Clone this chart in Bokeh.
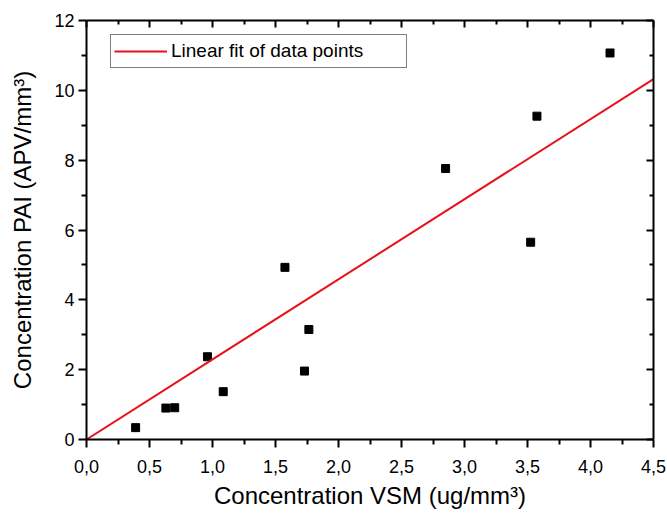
import numpy as np
from bokeh.plotting import figure
from bokeh.models import (LinearAxis, FixedTicker, CustomJSTickFormatter, Legend,
                          LegendItem, Range1d, ColumnDataSource)
from bokeh.embed import file_html
from bokeh.resources import INLINE

# ---- data ----
vsm = [0.39, 0.63, 0.70, 0.96, 1.085, 1.575, 1.73, 1.765, 2.85, 3.525, 3.575, 4.155]
pai = [0.34, 0.90, 0.91, 2.37, 1.37, 4.93, 1.96, 3.15, 7.76, 5.65, 9.26, 11.07]

x_ticks = [0.0, 0.5, 1.0, 1.5, 2.0, 2.5, 3.0, 3.5, 4.0, 4.5]
x_minor = [0.25, 0.75, 1.25, 1.75, 2.25, 2.75, 3.25, 3.75, 4.25]
y_ticks = [0, 2, 4, 6, 8, 10, 12]
y_minor = [1, 3, 5, 7, 9, 11]

x_label = "Concentration VSM (ug/mm³)"
y_label = "Concentration PAI (APV/mm³)"
fit_label = "Linear fit of data points"

# linear least-squares fit through the origin
xa = np.array(vsm)
ya = np.array(pai)
slope = float((xa * ya).sum() / (xa * xa).sum())
fit_x = [0.0, 4.5]
fit_y = [slope * v for v in fit_x]

FONT = "Liberation Sans"

W, H = 667, 515
ML, MR, MT, MB = 86, 14, 20, 76
FH = H - MT - MB

p = figure(width=W, height=H, x_range=Range1d(0, 4.5), y_range=Range1d(0, 12),
           output_backend="svg", toolbar_location=None,
           min_border_left=ML, min_border_right=MR, min_border_top=MT, min_border_bottom=MB,
           x_axis_label=x_label, y_axis_label=y_label)
p.grid.visible = False
p.outline_line_color = None
p.background_fill_color = "white"
p.border_fill_color = "white"

comma_fmt = CustomJSTickFormatter(code="return tick.toFixed(1).replace('.', ',');")
int_fmt = CustomJSTickFormatter(code="return tick.toFixed(0);")
empty_fmt = CustomJSTickFormatter(code="return '';")


def style_axis(ax, ticker, fmt, inward, show_labels):
    ax.ticker = ticker
    ax.formatter = fmt
    ax.axis_line_color = "black"
    ax.axis_line_width = 2
    ax.major_tick_line_color = "black"
    ax.major_tick_line_width = 2
    ax.minor_tick_line_color = "black"
    ax.minor_tick_line_width = 2
    if inward:
        ax.major_tick_in = 7
        ax.major_tick_out = 0
        ax.minor_tick_in = 4
        ax.minor_tick_out = 0
    else:
        ax.major_tick_in = 0
        ax.major_tick_out = 8
        ax.minor_tick_in = 0
        ax.minor_tick_out = 5
    if show_labels:
        ax.major_label_text_font = FONT
        ax.major_label_text_font_size = "18px"
        ax.major_label_text_color = "black"
        ax.axis_label_text_font = FONT
        ax.axis_label_text_font_size = "24px"
        ax.axis_label_text_font_style = "normal"
        ax.axis_label_text_color = "black"
    else:
        ax.major_label_standoff = 0
        ax.major_label_text_font_size = "0px"


style_axis(p.xaxis[0], FixedTicker(ticks=x_ticks, minor_ticks=x_minor), comma_fmt, False, True)
style_axis(p.yaxis[0], FixedTicker(ticks=y_ticks, minor_ticks=y_minor), int_fmt, False, True)
p.xaxis[0].major_label_standoff = 12
p.yaxis[0].major_label_standoff = 4
p.xaxis[0].axis_label_standoff = 6
p.yaxis[0].axis_label_standoff = 15

top_ax = LinearAxis()
style_axis(top_ax, FixedTicker(ticks=x_ticks, minor_ticks=x_minor), empty_fmt, True, False)
p.add_layout(top_ax, "above")
right_ax = LinearAxis()
style_axis(right_ax, FixedTicker(ticks=y_ticks, minor_ticks=y_minor), empty_fmt, True, False)
p.add_layout(right_ax, "right")

src = ColumnDataSource(dict(x=vsm, y=pai))
p.scatter("x", "y", source=src, marker="square", size=8, fill_color="black", line_color="black")

fit_r = p.line(fit_x, fit_y, line_color="#e8101a", line_width=2)

legend = Legend(items=[LegendItem(label=fit_label, renderers=[fit_r])],
                location=(24, FH - 16 - 32))
legend.border_line_color = "black"
legend.border_line_width = 1.5
legend.background_fill_color = "white"
legend.background_fill_alpha = 1.0
legend.padding = 3
legend.margin = 0
legend.spacing = 0
legend.glyph_width = 53
legend.glyph_height = 26
legend.label_height = 26
legend.label_width = 232
legend.label_standoff = 4
legend.label_text_font = FONT
legend.label_text_font_size = "19px"
legend.label_text_color = "black"
p.add_layout(legend)

open("out.html", "w").write(file_html(p, INLINE))
